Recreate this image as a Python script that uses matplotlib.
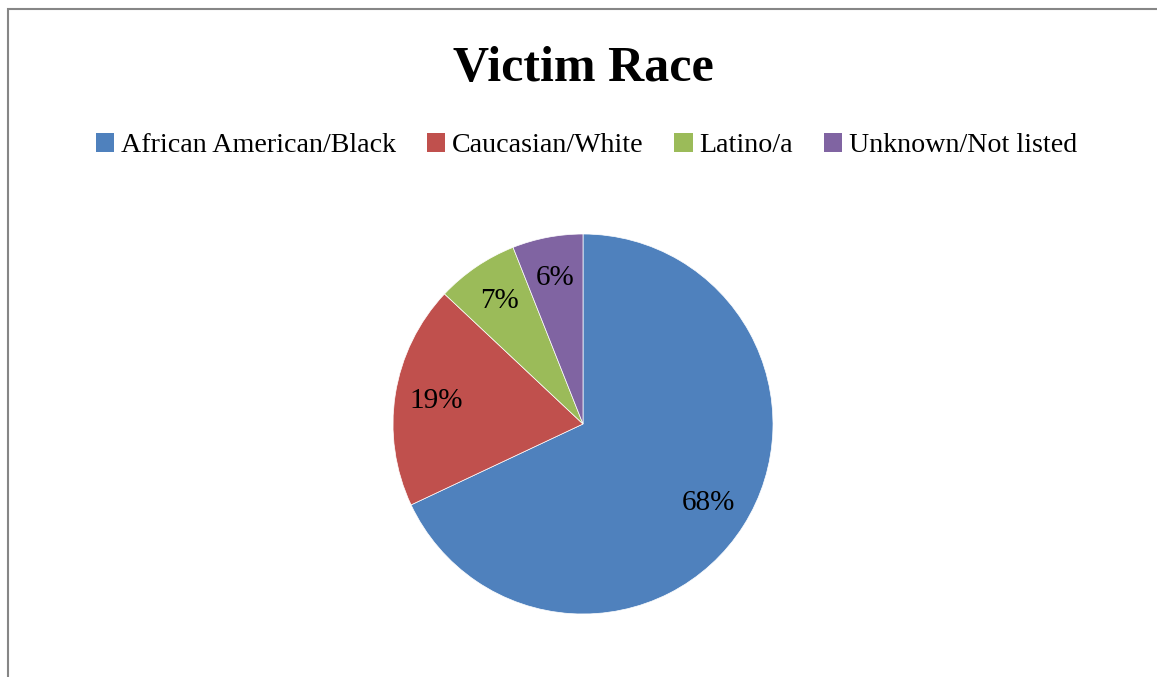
import matplotlib.pyplot as plt
import matplotlib.patches as patches

races = ['African American/Black', 'Caucasian/White', 'Latino/a', 'Unknown/Not listed']
shares = [68, 19, 7, 6]
colors = ['#4F81BD', '#C0504D', '#9BBB59', '#8064A2']

plt.rcParams['font.family'] = ['Liberation Serif', 'DejaVu Serif']

fig = plt.figure(figsize=(11.57, 6.77), dpi=100)

# chart border (runs off the right and bottom edge)
border = patches.Rectangle((8 / 1157, -0.1), 1.2, 1.1 - 9 / 677, transform=fig.transFigure,
                           fill=False, edgecolor='#868686', linewidth=1.5)
fig.patches.append(border)

ax = fig.add_axes([(583 - 190) / 1157, (677 - 614) / 677, 380 / 1157, 380 / 677])
wedges, texts, autotexts = ax.pie(shares, colors=colors, startangle=90, counterclock=False,
                                  autopct='%d%%', pctdistance=0.78,
                                  wedgeprops=dict(edgecolor='white', linewidth=0.5),
                                  textprops=dict(fontsize=21, color='black'))
ax.set_xlim(-1, 1)
ax.set_ylim(-1, 1)

fig.text(0.504, 0.898, 'Victim Race', ha='center', va='center', fontsize=36, fontweight='bold')

handles = [patches.Patch(facecolor=c, edgecolor='none') for c in colors]
fig.legend(handles, races, loc='center', bbox_to_anchor=(0.507, 0.785), ncol=4, frameon=False,
           fontsize=20.2, handlelength=0.65, handleheight=0.65, handletextpad=0.25, columnspacing=1.1)

fig.savefig('out.png', dpi=100)
